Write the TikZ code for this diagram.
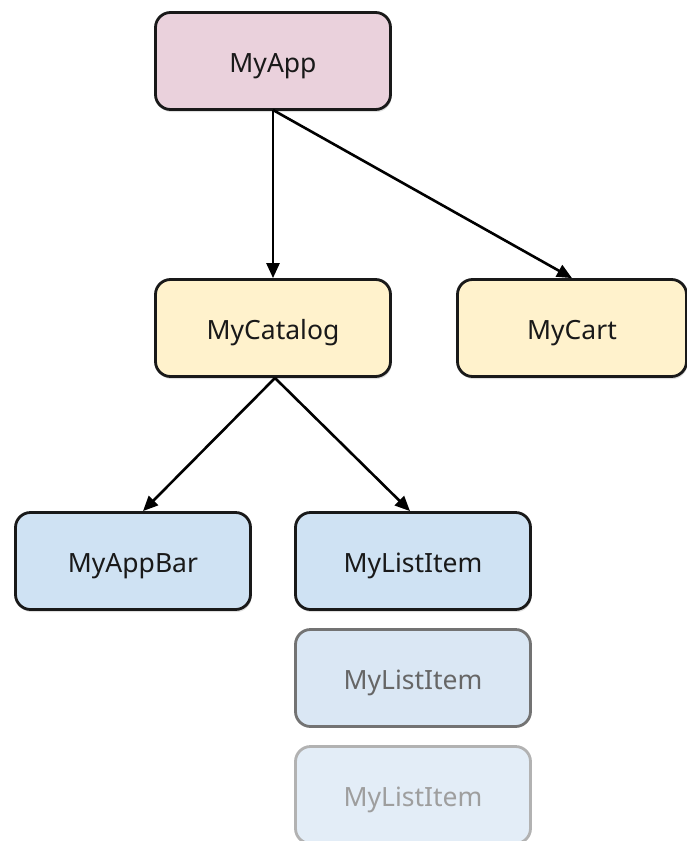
\documentclass[tikz,border=0pt]{standalone}
\usepackage{fontspec}
\setmainfont{Noto Sans}
\usetikzlibrary{arrows.meta,shadows}
\definecolor{pinkfill}{HTML}{EAD1DC}
\definecolor{yellowfill}{HTML}{FFF2CC}
\definecolor{bluefill}{HTML}{CFE2F3}
\definecolor{bluefillb}{HTML}{DAE7F4}
\definecolor{bluefillc}{HTML}{E3EDF7}
\tikzset{
  basebox/.style={line width=2.8pt, rounded corners=15pt, minimum width=235pt, minimum height=97pt,
    inner sep=0pt, text height=22pt, text depth=0pt, font=\fontsize{26.5}{30}\selectfont},
  box/.style={basebox, draw=black!90, text=black!90,
    drop shadow={shadow xshift=1pt, shadow yshift=-2.5pt, opacity=0.25}},
  ghostbox/.style={basebox, draw=black!55, text=black!60},
  ghostboxb/.style={basebox, draw=black!30, text=black!38},
  conn/.style={line width=2.6pt, -{Triangle[length=15pt,width=13pt]}}
}
\begin{document}
\begin{tikzpicture}[x=1pt,y=-1pt]
\useasboundingbox (0,0) rectangle (687,841);
\node[box, fill=pinkfill] (app) at (273,61) {MyApp};
\node[box, fill=yellowfill] (catalog) at (273,328) {MyCatalog};
\node[box, fill=yellowfill, minimum width=229pt] (cart) at (572,328) {MyCart};
\node[box, fill=bluefill] (appbar) at (133,561) {MyAppBar};
\node[box, fill=bluefill] (item1) at (413,561) {MyListItem};
\node[ghostbox, fill=bluefillb] (item2) at (413,678) {MyListItem};
\node[ghostboxb, fill=bluefillc] (item3) at (413,795) {MyListItem};
\coordinate (appbot) at (273,110);
\coordinate (catbot) at (275,378);
\draw[conn] (appbot) -- (catalog.north);
\draw[conn] (appbot) -- (cart.north);
\draw[conn] (catbot) -- ([xshift=10pt]appbar.north);
\draw[conn] (catbot) -- ([xshift=-3pt]item1.north);
\end{tikzpicture}
\end{document}
